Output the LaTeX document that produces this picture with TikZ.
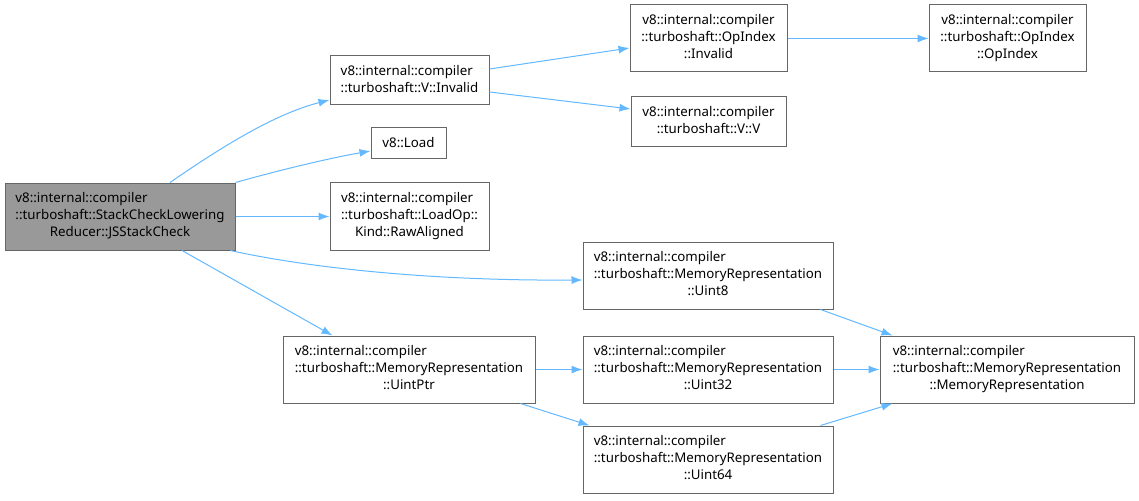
\documentclass[tikz,border=0pt]{standalone}
\usepackage{fontspec}
\setmainfont{Noto Sans}
\usetikzlibrary{arrows.meta,calc}
\begin{document}
\begin{tikzpicture}[x=1pt,y=-1pt,
  box/.style={draw=black!60,line width=1pt,rectangle,inner sep=0pt,align=center,font=\fontsize{13.3}{17}\selectfont},
  edge/.style={draw={rgb,255:red,99;green,184;blue,255},line width=1pt,-{Latex[length=11pt,width=8pt]}}]
\useasboundingbox (0,0) rectangle (1139,500);
\newcommand{\lines}[3]{\begin{tabular}{@{}l@{}}#1\\#2\\\multicolumn{1}{@{}c@{}}{#3}\end{tabular}}
\newcommand{\ctl}[3]{\begin{tabular}{@{}c@{}}#1\\#2\\#3\end{tabular}}
\node[box,fill=black!40,minimum width=230,minimum height=67] (root) at (120,216.5) {\lines{v8::internal::compiler}{::turboshaft::StackCheckLowering}{Reducer::JSStackCheck}};
\node[box,minimum width=159,minimum height=49] (vinv) at (409.5,80.5) {\begin{tabular}{@{}l@{}}v8::internal::compiler\\::turboshaft::V::Invalid\end{tabular}};
\node[box,minimum width=75,minimum height=31] (load) at (408.5,142.5) {v8::Load};
\node[box,minimum width=159,minimum height=68] (raw) at (409.5,216.5) {\lines{v8::internal::compiler}{::turboshaft::LoadOp::}{Kind::RawAligned}};
\node[box,minimum width=252,minimum height=67] (uptr) at (409,369.5) {\lines{v8::internal::compiler}{::turboshaft::MemoryRepresentation}{::UintPtr}};
\node[box,minimum width=157,minimum height=67] (opinv) at (708.5,38.5) {\ctl{v8::internal::compiler}{::turboshaft::OpIndex}{::Invalid}};
\node[box,minimum width=155,minimum height=49] (vv) at (708.5,121.5) {\begin{tabular}{@{}c@{}}v8::internal::compiler\\::turboshaft::V::V\end{tabular}};
\node[box,minimum width=250,minimum height=67] (u8) at (708,275.5) {\lines{v8::internal::compiler}{::turboshaft::MemoryRepresentation}{::Uint8}};
\node[box,minimum width=250,minimum height=67] (u32) at (708,369.5) {\lines{v8::internal::compiler}{::turboshaft::MemoryRepresentation}{::Uint32}};
\node[box,minimum width=250,minimum height=67] (u64) at (708,459.5) {\lines{v8::internal::compiler}{::turboshaft::MemoryRepresentation}{::Uint64}};
\node[box,minimum width=157,minimum height=67] (opidx) at (1007.5,38.5) {\ctl{v8::internal::compiler}{::turboshaft::OpIndex}{::OpIndex}};
\node[box,minimum width=254,minimum height=67] (mrep) at (1007,369.5) {\lines{v8::internal::compiler}{::turboshaft::MemoryRepresentation}{::MemoryRepresentation}};
% edges
\draw[edge] ($(root.north)+(50,0)$) .. controls (210,155) and (270,115) .. ($(vinv.west)+(0,19.5)$);
\draw[edge] (root.north east) .. controls (280,170) and (330,158) .. ($(load.west)+(0,8.5)$);
\draw[edge] (root.east) -- (raw.west);
\draw[edge] ($(root.south east)+(-5,0)$) .. controls (300,266) and (420,281) .. ($(u8.west)+(0,4.5)$);
\draw[edge] ($(root.south)+(62,0)$) -- ($(uptr.north west)+(50,0)$);
\draw[edge] ($(vinv.east)+(0,-11.5)$) -- ($(opinv.west)+(0,9.5)$);
\draw[edge] ($(vinv.east)+(0,11.5)$) -- ($(vv.west)+(0,-12.5)$);
\draw[edge] (opinv.east) -- (opidx.west);
\draw[edge] ($(u8.south east)+(-13,0)$) -- ($(mrep.north west)+(13,0)$);
\draw[edge] (u32.east) -- (mrep.west);
\draw[edge] ($(u64.north east)+(-13,0)$) -- ($(mrep.south west)+(13,0)$);
\draw[edge] (uptr.east) -- (u32.west);
\draw[edge] ($(uptr.south east)+(-15,0)$) -- ($(u64.north west)+(7,0)$);
\end{tikzpicture}
\end{document}
